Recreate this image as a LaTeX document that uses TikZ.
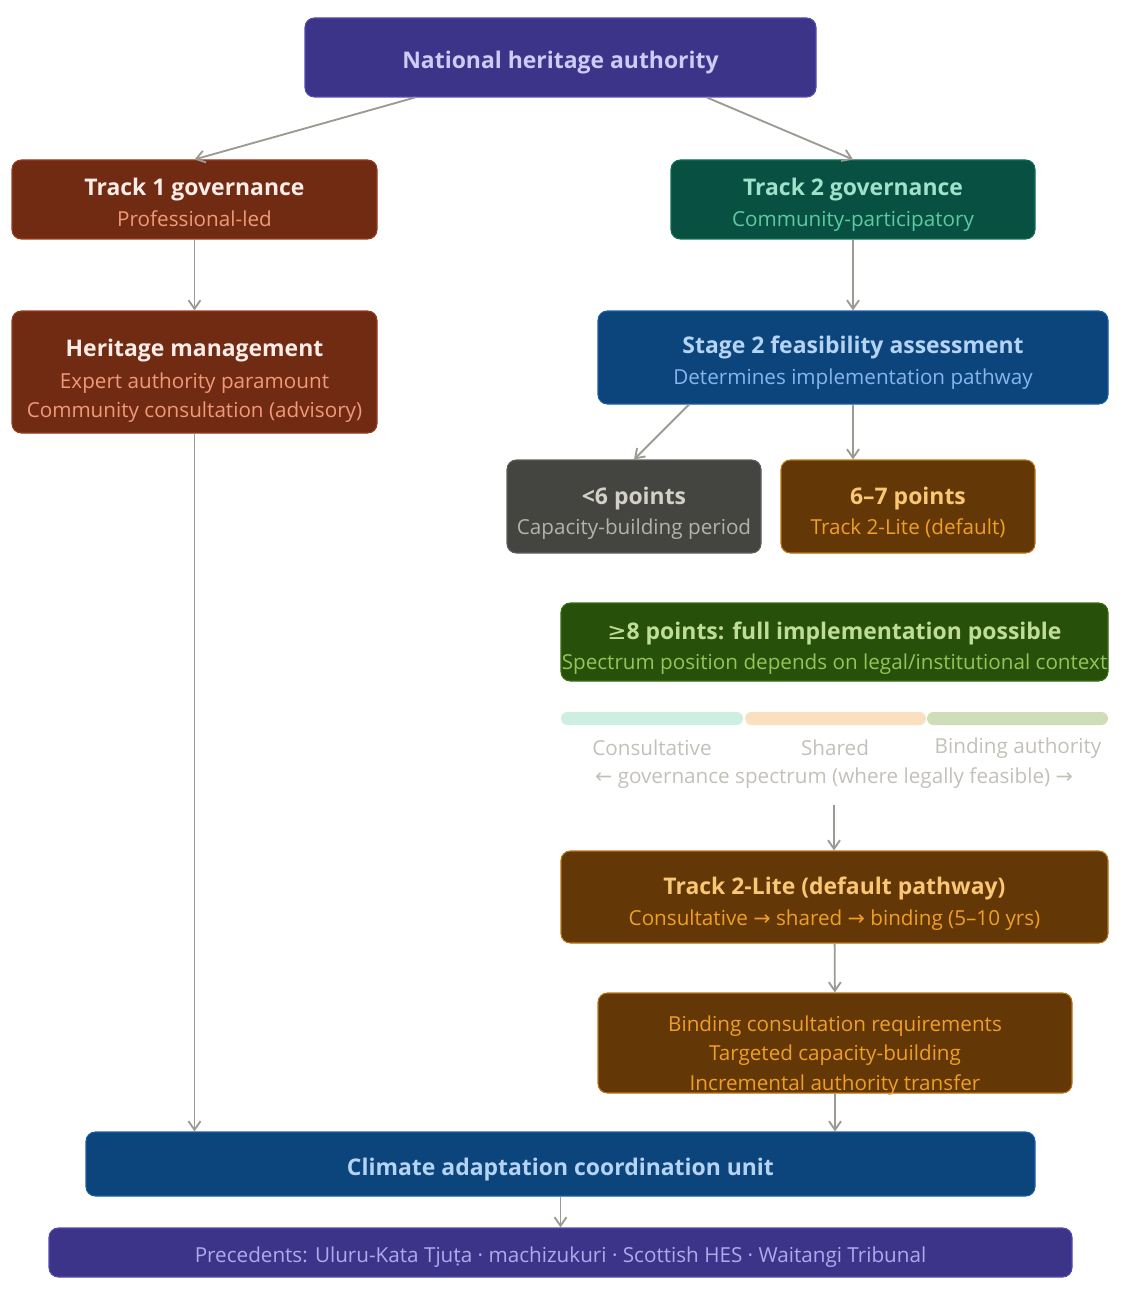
\documentclass[tikz,border=0pt]{standalone}
\usepackage{fontspec}
\setmainfont{Open Sans}
\IfFontExistsTF{Open Sans SemiBold}{\newfontfamily\hdf{Open Sans SemiBold}}%
  {\newfontfamily\hdf{Open Sans}[UprightFont={* Bold}]}
\newfontfamily\symf{DejaVu Sans}
\newfontfamily\latf{Noto Sans}
\usetikzlibrary{arrows.meta,calc}

\definecolor{arrowgray}{HTML}{9C9A92}
\definecolor{natfill}{HTML}{3C3489}
\definecolor{natedge}{HTML}{534AB7}
\definecolor{natttl}{HTML}{CECBF6}
\definecolor{natsub}{HTML}{AFA9EC}
\definecolor{onefill}{HTML}{712B13}
\definecolor{oneedge}{HTML}{993C1D}
\definecolor{onettl}{HTML}{FAECE7}
\definecolor{onesub}{HTML}{F0997B}
\definecolor{twofill}{HTML}{085041}
\definecolor{twoedge}{HTML}{0F6E56}
\definecolor{twottl}{HTML}{9FE1CB}
\definecolor{twosub}{HTML}{5DCAA5}
\definecolor{bluefill}{HTML}{0C447C}
\definecolor{blueedge}{HTML}{185FA5}
\definecolor{bluettl}{HTML}{B5D4F4}
\definecolor{bluesub}{HTML}{85B7EB}
\definecolor{grayfill}{HTML}{444441}
\definecolor{grayedge}{HTML}{5F5E5A}
\definecolor{grayttl}{HTML}{D3D1C7}
\definecolor{graysub}{HTML}{B4B2A9}
\definecolor{ambfill}{HTML}{633806}
\definecolor{ambedge}{HTML}{BA7517}
\definecolor{ambttl}{HTML}{FAC775}
\definecolor{ambsub}{HTML}{EF9F27}
\definecolor{grnfill}{HTML}{27500A}
\definecolor{grnedge}{HTML}{3B6D11}
\definecolor{grnttl}{HTML}{C0DD97}
\definecolor{grnsub}{HTML}{97C459}
\definecolor{barone}{HTML}{CDEEE0}
\definecolor{bartwo}{HTML}{FAE0BF}
\definecolor{barthree}{HTML}{D0DDB9}
\definecolor{speclbl}{HTML}{C2C0B8}

\def\dropht{0pt}
\newcommand\dropstrut{\rule{0pt}{\dropht}}
\newcommand\hd[1]{{\fontsize{17.2}{23.5}\hdf\dropstrut #1}}
\newcommand\arr[1]{{\symf\mdseries #1}}

\tikzset{
  box/.style 2 args={draw, rounded corners=7pt, line width=0.8pt,
    minimum width=#1*0.75pt, minimum height=#2*0.75pt, inner sep=0pt,
    text depth=-2pt, align=center, font=\fontsize{15.5}{22}\selectfont},
  drop/.style={execute at begin node={\def\dropht{#1}}},
  flow/.style={draw=arrowgray, line width=1.4pt,
    -{Straight Barb[length=6.5pt,width=9pt,line width=1.4pt]}},
  bar/.style={rounded corners=4.8pt, minimum height=9.75pt, inner sep=0pt,
    minimum width=#1*0.75pt},
  lbl/.style={text=speclbl, inner sep=0pt, font=\fontsize{15.5}{22}\selectfont}
}

\begin{document}
\begin{tikzpicture}[x=0.75pt,y=0.75pt,yscale=-1,xscale=1]
\useasboundingbox (0,0) rectangle (1125,1298);

% top
\node[box={511}{79}, drop=16pt, fill=natfill, draw=natedge, text=natttl] (nat) at (560.5,57.5) {\hd{National heritage authority}};

% two tracks
\node[box={365}{79}, drop=17.5pt, fill=onefill, draw=oneedge, text=onettl] (t1) at (194.5,199.5)
  {\hd{Track 1 governance}\\[1pt]\textcolor{onesub}{Professional-led}};
\node[box={364}{79}, drop=17.5pt, fill=twofill, draw=twoedge, text=twottl] (t2) at (853,199.5)
  {\hd{Track 2 governance}\\[1pt]\textcolor{twosub}{Community-participatory}};

\node[box={365}{122}, drop=22pt, fill=onefill, draw=oneedge, text=onettl] (hm) at (194.5,372)
  {\hd{Heritage management}\\[2pt]\textcolor{onesub}{Expert authority paramount}\\\textcolor{onesub}{Community consultation (advisory)}};
\node[box={510}{93}, drop=17.5pt, fill=bluefill, draw=blueedge, text=bluettl] (s2) at (853,357.5)
  {\hd{Stage 2 feasibility assessment}\\[1pt]\textcolor{bluesub}{Determines implementation pathway}};

% scores
\node[box={254}{93}, drop=19.5pt, fill=grayfill, draw=grayedge, text=grayttl] (lt6) at (634,506.5)
  {\hd{<6 points}\\[1pt]\textcolor{graysub}{Capacity-building period}};
\node[box={254}{93}, drop=19.5pt, fill=ambfill, draw=ambedge, text=ambttl] (p67) at (908,506.5)
  {\hd{6–7 points}\\[1pt]\textcolor{ambsub}{Track 2-Lite (default)}};
\node[box={547}{78}, drop=18.5pt, fill=grnfill, draw=grnedge, text=grnttl] (ge8) at (834.5,642)
  {\hd{\arr{≥}8 points: full implementation possible}\\[1pt]\textcolor{grnsub}{Spectrum position depends on legal/institutional context}};

% spectrum
\node[bar=182, fill=barone] (bc) at (652,718.5) {};
\node[bar=181, fill=bartwo] (bs) at (835.5,718.5) {};
\node[bar=181, fill=barthree] (bb) at (1017.5,718.5) {};
\node[lbl] (lc) at (652,748) {Consultative};
\node[lbl] (ls) at (835,748) {Shared};
\node[lbl] (lb) at (1018,748) {Binding authority};
\node[lbl] (spec) at (834,778) {\arr{←} governance spectrum (where legally feasible) \arr{→}};

% lite path
\node[box={547}{92}, drop=19pt, fill=ambfill, draw=ambedge, text=ambttl] (tl2) at (834.5,897)
  {\hd{Track 2-Lite (default pathway)}\\[1pt]\textcolor{ambsub}{Consultative \arr{→} shared \arr{→} binding (5–10 yrs)}};
\node[box={474}{100}, drop=26.5pt, fill=ambfill, draw=ambedge, text=ambsub] (bind) at (835,1043)
  {\dropstrut Binding consultation requirements\\Targeted capacity-building\\Incremental authority transfer};

% bottom
\node[box={949}{64}, drop=17.5pt, fill=bluefill, draw=blueedge, text=bluettl] (cacu) at (560.5,1164) {\hd{Climate adaptation coordination unit}};
\node[box={1023}{49}, drop=15pt, fill=natfill, draw=natedge, text=natsub] (prec) at (560.5,1252.5)
  {\dropstrut Precedents: Uluru-Kata Tju{\latf ṭ}a · machizukuri · Scottish HES · Waitangi Tribunal};

% connectors
\draw[flow] ($(nat.south)+(-145.5,0)$) -- (t1.north);
\draw[flow] ($(nat.south)+(146.5,0)$) -- (t2.north);
\draw[flow] (t1) -- (hm);
\draw[flow] (hm.south) -- (hm.south |- cacu.north);
\draw[flow] (t2) -- (s2);
\draw[flow] ($(s2.south)+(-164,0)$) -- (lt6.north);
\draw[flow] (s2.south) -- (s2.south |- p67.north);
\draw[flow, shorten <=12pt] (spec.south) -- (spec.south |- tl2.north);
\draw[flow] (tl2) -- (bind);
\draw[flow] (bind.south) -- (bind.south |- cacu.north);
\draw[flow] (cacu) -- (prec);

\end{tikzpicture}
\end{document}
